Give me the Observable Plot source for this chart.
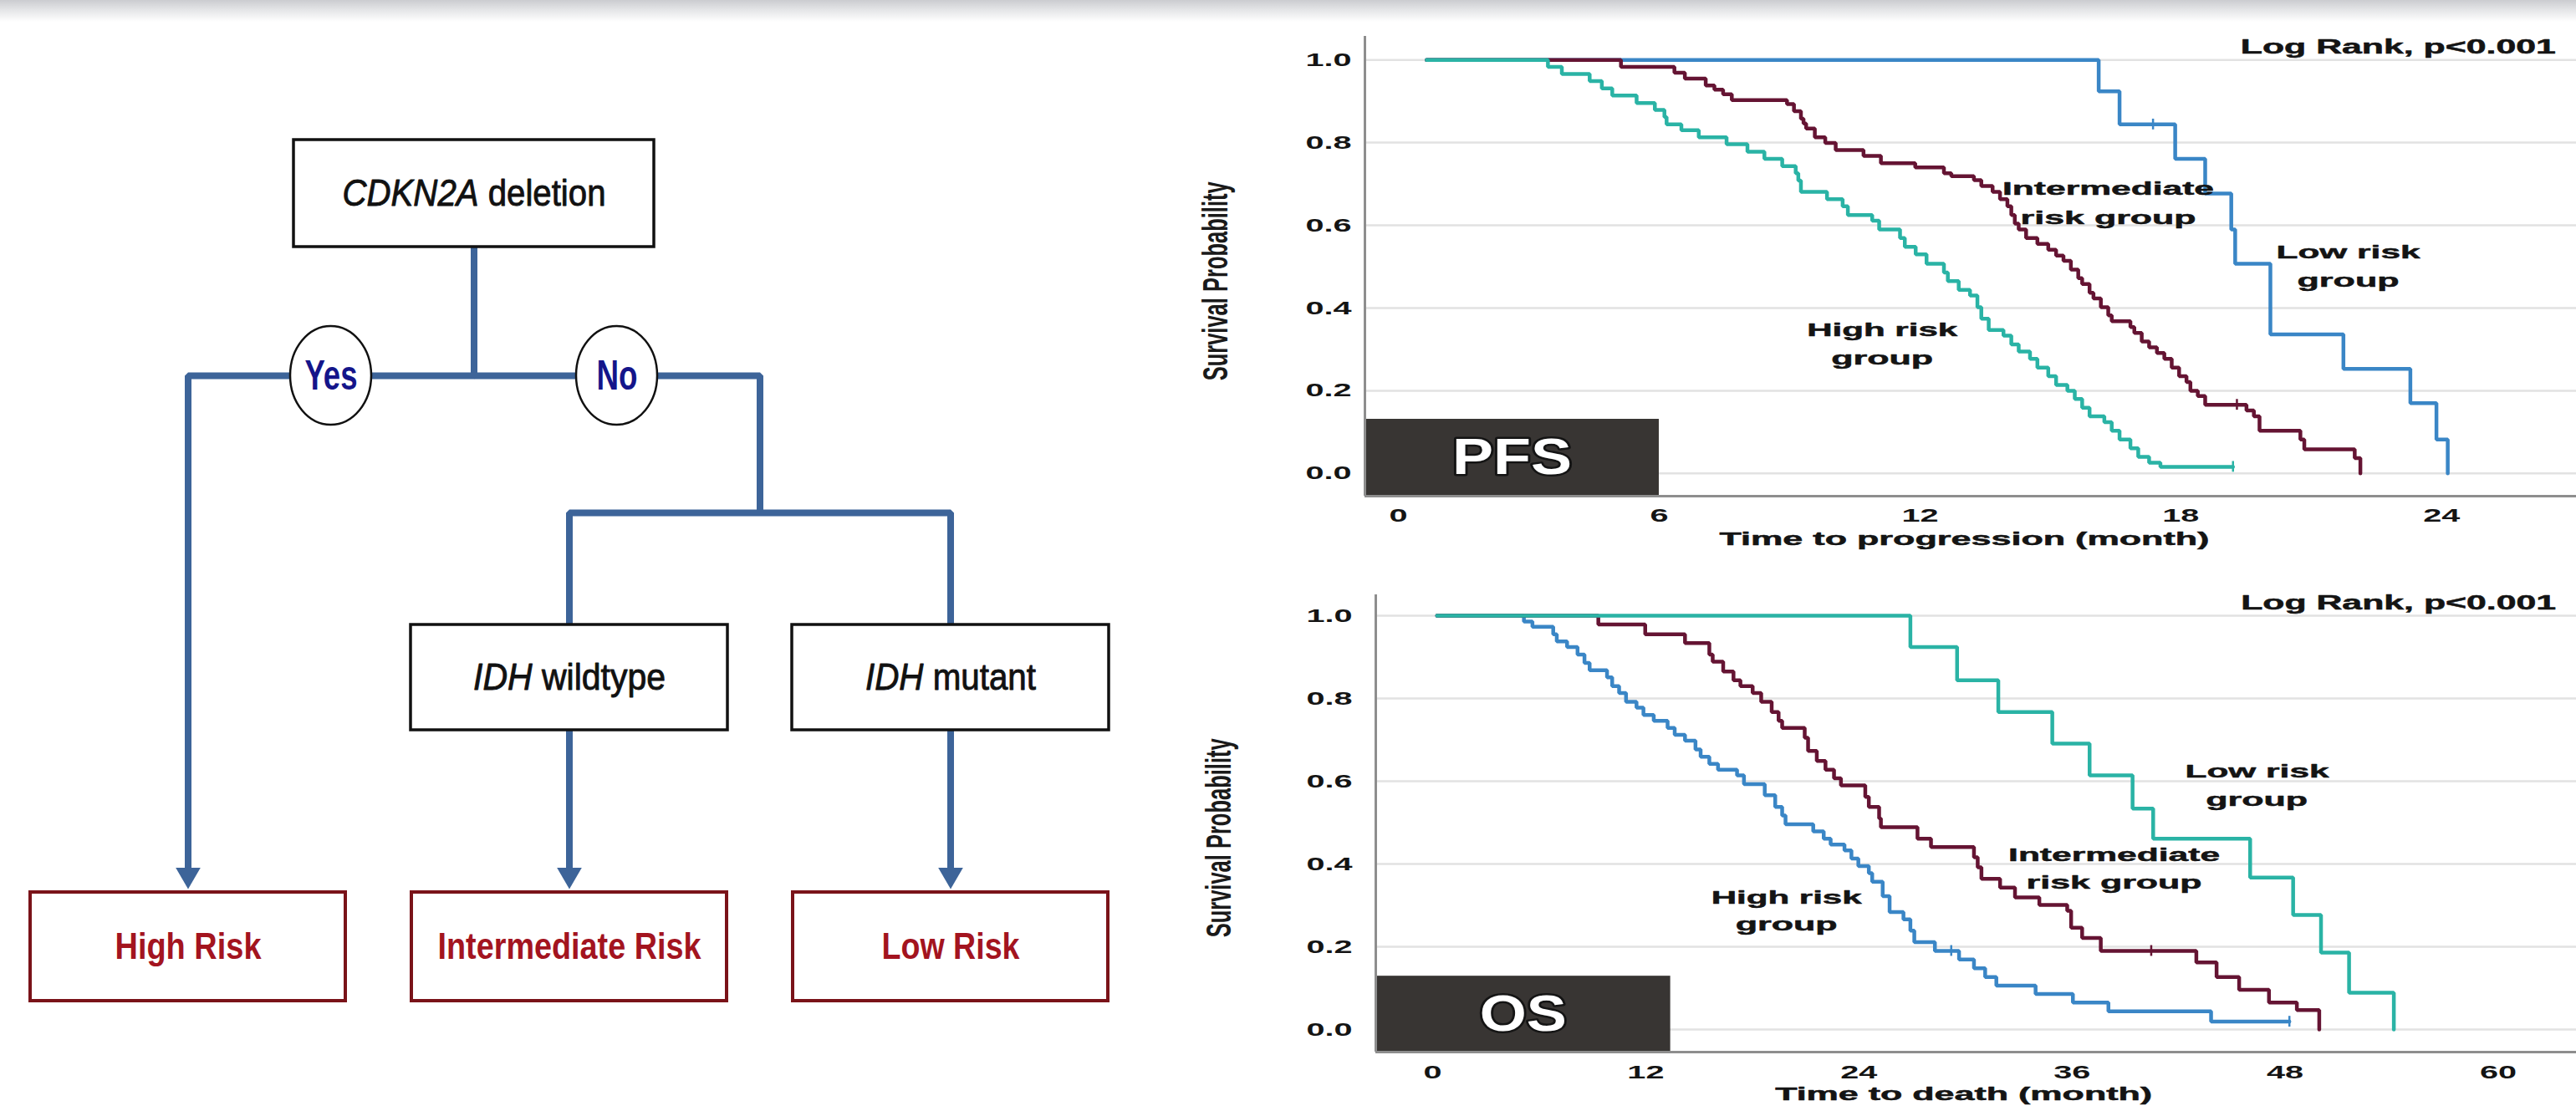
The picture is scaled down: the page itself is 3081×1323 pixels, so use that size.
<!DOCTYPE html>
<html>
<head>
<meta charset="utf-8">
<script src="https://cdn.jsdelivr.net/npm/d3@7"></script>
<script src="https://cdn.jsdelivr.net/npm/@observablehq/plot@0.6"></script>
<style>
html,body{margin:0;padding:0;background:#fff;}
#page{position:relative;width:3081px;height:1323px;overflow:hidden;background:#fff;font-family:"Liberation Sans",Arial,sans-serif;}
.panel{position:absolute;}
#topband{position:absolute;left:0;top:0;width:3081px;height:26px;background:linear-gradient(to bottom,#cbccd0 0%,#e4e5e7 45%,rgba(255,255,255,0) 100%);z-index:5;}
</style>
</head>
<body>
<div id="page">
  <div id="flow" class="panel" style="left:0;top:0;width:1400px;height:1323px"></div>
  <div id="pfs" class="panel" style="left:1400px;top:30px;width:1681px;height:650px"></div>
  <div id="os" class="panel" style="left:1400px;top:690px;width:1681px;height:633px"></div>
  <div id="topband"></div>
</div>
<script>
// ================= DATA =================
const riskGroups = ["Low risk group", "Intermediate risk group", "High risk group"];

// Kaplan–Meier steps: [time (months), survival probability]
const pfsLow = [[0.65,1],[16.11,0.924],[16.59,0.844],[17.87,0.761],[18.56,0.677],[19.16,0.590],[19.25,0.507],[20.06,0.336],[21.74,0.253],[23.28,0.170],[23.88,0.082],[24.14,0.0]];
const pfsInt = [[0.65,1],[5.12,0.983],[6.35,0.969],[6.59,0.955],[7.07,0.938],[7.27,0.928],[7.47,0.917],[7.67,0.903],[8.94,0.893],[9.10,0.876],[9.26,0.858],[9.32,0.846],[9.38,0.834],[9.58,0.813],[9.82,0.799],[10.06,0.782],[10.70,0.768],[11.10,0.750],[11.89,0.740],[12.55,0.726],[12.72,0.719],[13.24,0.709],[13.41,0.695],[13.67,0.681],[13.84,0.663],[14.01,0.646],[14.10,0.625],[14.18,0.604],[14.27,0.590],[14.44,0.569],[14.70,0.555],[14.95,0.541],[15.13,0.527],[15.30,0.514],[15.47,0.493],[15.64,0.472],[15.73,0.458],[15.90,0.437],[15.99,0.423],[16.16,0.402],[16.33,0.382],[16.41,0.368],[16.84,0.354],[16.93,0.340],[17.10,0.319],[17.27,0.305],[17.45,0.291],[17.62,0.277],[17.79,0.256],[17.96,0.235],[18.13,0.221],[18.22,0.200],[18.39,0.187],[18.56,0.166],[19.51,0.152],[19.68,0.138],[19.81,0.103],[20.75,0.082],[20.84,0.058],[22.0,0.037],[22.13,0.0]];
const pfsHigh = [[0.65,1],[3.44,0.983],[3.76,0.966],[4.40,0.949],[4.68,0.931],[4.92,0.914],[5.48,0.896],[5.90,0.879],[6.12,0.862],[6.17,0.844],[6.51,0.830],[6.91,0.813],[7.55,0.796],[8.03,0.778],[8.42,0.761],[8.83,0.743],[9.14,0.726],[9.20,0.708],[9.26,0.681],[9.86,0.663],[10.22,0.646],[10.34,0.625],[10.90,0.611],[11.06,0.590],[11.54,0.569],[11.65,0.548],[11.90,0.530],[12.15,0.507],[12.55,0.486],[12.64,0.465],[12.89,0.444],[13.15,0.430],[13.32,0.402],[13.41,0.374],[13.58,0.347],[13.92,0.333],[14.10,0.312],[14.27,0.295],[14.53,0.277],[14.70,0.256],[14.95,0.235],[15.13,0.214],[15.39,0.200],[15.56,0.180],[15.73,0.159],[15.90,0.138],[16.24,0.124],[16.41,0.103],[16.59,0.082],[16.84,0.061],[17.02,0.040],[17.27,0.026],[17.53,0.016],[19.2,0.016]];
const pfsLowCensor = [[17.36,0.844]];
const pfsIntCensor = [[19.29,0.166]];
const pfsHighCensor = [[19.2,0.016]];

const osLow = [[0.25,1],[26.90,0.924],[29.53,0.844],[31.85,0.767],[34.89,0.691],[36.99,0.614],[39.41,0.534],[40.57,0.461],[46.03,0.367],[48.45,0.277],[50.02,0.186],[51.6,0.089],[54.12,0.0]];
const osInt = [[0.25,1],[9.33,0.979],[11.97,0.955],[14.21,0.934],[15.58,0.906],[15.77,0.889],[16.36,0.865],[16.94,0.844],[17.33,0.830],[18.02,0.813],[18.50,0.792],[19.09,0.767],[19.48,0.746],[19.68,0.729],[20.95,0.705],[21.14,0.673],[21.63,0.649],[22.12,0.628],[22.60,0.607],[22.99,0.590],[24.36,0.562],[24.56,0.538],[25.14,0.510],[25.24,0.489],[27.3,0.461],[28.06,0.441],[30.48,0.416],[30.69,0.392],[30.90,0.364],[31.95,0.343],[32.79,0.319],[34.16,0.301],[35.73,0.287],[35.95,0.246],[36.57,0.221],[37.62,0.190],[43.0,0.162],[44.14,0.127],[45.41,0.096],[47.09,0.065],[48.66,0.047],[49.92,0.0]];
const osHigh = [[0.25,1],[5.14,0.986],[5.62,0.973],[6.79,0.955],[6.99,0.938],[7.57,0.924],[8.16,0.906],[8.55,0.886],[8.84,0.868],[9.82,0.851],[10.11,0.830],[10.50,0.813],[10.89,0.792],[11.48,0.778],[11.87,0.760],[12.45,0.746],[13.23,0.729],[13.63,0.712],[14.21,0.698],[14.80,0.677],[15.09,0.659],[15.58,0.642],[16.07,0.628],[17.14,0.614],[17.53,0.593],[18.70,0.566],[19.29,0.538],[19.68,0.517],[19.87,0.496],[21.43,0.479],[22.02,0.461],[22.41,0.447],[23.19,0.433],[23.58,0.413],[23.97,0.395],[24.56,0.378],[24.75,0.357],[25.34,0.322],[25.73,0.284],[26.51,0.266],[26.90,0.239],[27.12,0.211],[28.28,0.190],[29.64,0.169],[30.48,0.148],[31.11,0.127],[31.74,0.106],[33.95,0.086],[36.05,0.065],[38.05,0.044],[43.83,0.019],[48.24,0.019]];
const osLowCensor = [];
const osIntCensor = [[40.46,0.190]];
const osHighCensor = [[29.2,0.190],[48.24,0.019]];

const survTicks = [0, 0.2, 0.4, 0.6, 0.8, 1.0];
const pfsTimeTicks = [0, 6, 12, 18, 24];
const osTimeTicks = [0, 12, 24, 36, 48, 60];

// curve annotations: [text, time, survival]
const pfsLabels = [["Intermediate",16.33,0.688],["risk group",16.33,0.618],["Low risk",21.85,0.535],["group",21.85,0.465],["High risk",11.13,0.346],["group",11.13,0.277]];
const osLabels = [["Low risk",46.42,0.624],["group",46.40,0.554],["Intermediate",38.37,0.422],["risk group",38.37,0.354],["High risk",19.92,0.319],["group",19.92,0.253]];
const logRankText = "Log Rank, p<0.001";

// decision tree
const flowDecision = "CDKN2A deletion";
const flowAnswers = ["Yes", "No"];
const flowMarkers = ["IDH wildtype", "IDH mutant"];
const flowOutcomes = ["High Risk", "Intermediate Risk", "Low Risk"];

// ================= STYLE =================
const FONT = '"Liberation Sans", Arial, Helvetica, sans-serif';
const BLUE = "#3a86c6", TEAL = "#2ab3a5", MAROON = "#651433";
const FLOWBLUE = "#3d6499";

const textWidths = {
  "Log Rank, p<0.001": 377, "Intermediate": 253, "risk group": 210, "Low risk": 172,
  "group": 122, "High risk": 180, "Time to progression (month)": 586, "Time to death (month)": 451,
  "Survival Probability": 238, "PFS": 143, "OS": 104,
  "CDKN2A deletion": 315, "IDH wildtype": 230, "IDH mutant": 204,
  "High Risk": 175, "Intermediate Risk": 315, "Low Risk": 165, "Yes": 63, "No": 49
};

function stretch(svg, factor) {
  svg.querySelectorAll("text").forEach(t => {
    const s = t.textContent.trim();
    let w = textWidths[s];
    if (w == null) { if (!factor) return; w = t.getComputedTextLength() * factor; }
    t.setAttribute("textLength", w);
    t.setAttribute("lengthAdjust", "spacingAndGlyphs");
  });
}

// ================= KM CHART =================
function kmChart(cfg) {
  const marks = [Plot.ruleY(survTicks, {stroke: "#e2e2e2", strokeWidth: 2.5})];
  cfg.curves.forEach(c => {
    marks.push(Plot.line(c.data, {x: d => d[0], y: d => d[1], curve: "step-after", stroke: c.color, strokeWidth: 4.5, strokeLinejoin: "miter"}));
    if (c.censor.length) marks.push(Plot.link(c.censor, {x1: d => d[0], x2: d => d[0], y1: d => d[1] - 0.012, y2: d => d[1] + 0.014, stroke: c.color, strokeWidth: 2.5}));
  });
  const box = cfg.box;
  const txt = {fontWeight: "bold", fill: "#141414", stroke: "#141414", strokeWidth: 0.5};
  marks.push(
    Plot.rect([box], {x1: "x1", x2: "x2", y1: "y1", y2: "y2", fill: "#383533"}),
    Plot.text([box], {x: d => (d.x1 + d.x2) / 2, y: d => (d.y1 + d.y2) / 2, text: "label", fill: "#fff", stroke: "#141414", strokeWidth: 5, fontSize: 62, fontWeight: "bold", ariaLabel: "boxlabel"}),
    Plot.ruleX([cfg.xDomain[0]], {stroke: "#8e8e8e", strokeWidth: 3}),
    Plot.ruleY([cfg.yDomain[0]], {stroke: "#8e8e8e", strokeWidth: 3}),
    Plot.axisY(survTicks, {tickSize: 0, tickPadding: cfg.yTickPad, tickFormat: d3.format(".1f"), fontSize: 22, label: null, ...txt}),
    Plot.axisX(cfg.xTicks, {tickSize: 0, tickPadding: cfg.xTickPad, fontSize: 22, label: null, ...txt}),
    Plot.text(cfg.labels, {x: d => d[1], y: d => d[2], text: d => d[0], fontSize: 22, ...txt}),
    Plot.text([logRankText], {x: cfg.logRankX, y: 1.03, text: d => d, fontSize: 23, ...txt}),
    Plot.text([cfg.xTitle], {x: cfg.xTitleX, frameAnchor: "bottom", lineAnchor: "middle", textAnchor: "middle", dy: cfg.xTitleDy, text: d => d, fontSize: 22, ...txt}),
    Plot.text(["Survival Probability"], {y: cfg.yTitleY, frameAnchor: "left", textAnchor: "middle", lineAnchor: "middle", dx: cfg.yTitleDx, rotate: -90, text: d => d, fontSize: 42, fontWeight: "bold", fill: "#1a1a1a"})
  );
  return Plot.plot({
    width: cfg.width, height: cfg.height,
    marginLeft: cfg.margin[3], marginRight: cfg.margin[1], marginTop: cfg.margin[0], marginBottom: cfg.margin[2],
    x: {domain: cfg.xDomain, label: null},
    y: {domain: cfg.yDomain, label: null},
    style: {fontFamily: FONT, background: "transparent", overflow: "visible", maxWidth: "none"},
    marks
  });
}

const pfsSvg = kmChart({
  width: 1681, height: 650, margin: [13, 0, 87, 232],
  xDomain: [-0.77, 27.1], yDomain: [-0.055, 1.057],
  xTicks: pfsTimeTicks, yTickPad: 16, xTickPad: 15,
  curves: [
    {data: pfsLow, censor: pfsLowCensor, color: BLUE},
    {data: pfsInt, censor: pfsIntCensor, color: MAROON},
    {data: pfsHigh, censor: pfsHighCensor, color: TEAL}
  ],
  box: {x1: -0.77, x2: 6.0, y1: -0.055, y2: 0.131, label: "PFS"},
  labels: pfsLabels, logRankX: 23.0,
  xTitle: "Time to progression (month)", xTitleX: 13.02, xTitleDy: 51,
  yTitleY: 0.465, yTitleDx: -178
});

const osSvg = kmChart({
  width: 1681, height: 633, margin: [21, 0, 65, 245],
  xDomain: [-3.2, 64.4], yDomain: [-0.0545, 1.0505],
  xTicks: osTimeTicks, yTickPad: 28, xTickPad: 16,
  curves: [
    {data: osHigh, censor: osHighCensor, color: BLUE},
    {data: osInt, censor: osIntCensor, color: MAROON},
    {data: osLow, censor: osLowCensor, color: TEAL}
  ],
  box: {x1: -3.2, x2: 13.4, y1: -0.0545, y2: 0.129, label: "OS"},
  labels: osLabels, logRankX: 54.38,
  xTitle: "Time to death (month)", xTitleX: 29.9, xTitleDy: 50,
  yTitleY: 0.463, yTitleDx: -187
});

document.getElementById("pfs").append(pfsSvg);
document.getElementById("os").append(osSvg);

// ================= FLOWCHART =================
function flowChart() {
  // tree layout: leaves on integer columns, parents centred over children
  const outCols = flowOutcomes.map((_, i) => i);
  const markerCols = [outCols[1], outCols[2]];
  const noJoin = d3.mean(markerCols);
  const rootCol = (outCols[0] + noJoin) / 2;
  const answerCols = [(rootCol + outCols[0]) / 2, (rootCol + noJoin) / 2];
  // layout in pixels
  const colPx = 456, col0 = 224.5, W = 1400, H = 1323;
  const L = {rootY: 231, rootW: 431, rootH: 128, split1: 449, split2: 613, geneY: 810, geneW: 379, geneH: 126,
             riskY: 1132, riskW: 377, riskH: 130, ansRx: 48.5, ansRy: 59, arrowC: 1046};
  const hw = px => px / colPx;

  const qBoxes = [{c: rootCol, y: L.rootY, w: L.rootW, h: L.rootH, label: flowDecision}]
    .concat(flowMarkers.map((m, i) => ({c: markerCols[i], y: L.geneY, w: L.geneW, h: L.geneH, label: m})));
  const rBoxes = flowOutcomes.map((o, i) => ({c: outCols[i], y: L.riskY, w: L.riskW, h: L.riskH, label: o}));
  const answers = flowAnswers.map((a, i) => ({c: answerCols[i], y: L.split1, label: a}));

  const rootBottom = L.rootY + L.rootH / 2, geneTop = L.geneY - L.geneH / 2, geneBottom = L.geneY + L.geneH / 2;
  const edges = [
    [[rootCol, rootBottom], [rootCol, L.split1], [outCols[0], L.split1], [outCols[0], L.arrowC]],
    [[rootCol, L.split1], [noJoin, L.split1], [noJoin, L.split2]],
    [[noJoin, L.split2], [markerCols[0], L.split2], [markerCols[0], geneTop]],
    [[noJoin, L.split2], [markerCols[1], L.split2], [markerCols[1], geneTop]],
    [[markerCols[0], geneBottom], [markerCols[0], L.arrowC]],
    [[markerCols[1], geneBottom], [markerCols[1], L.arrowC]]
  ].flatMap((pts, k) => pts.map(p => ({k, c: p[0], y: p[1]})));
  const arrows = outCols.map(c => ({c, y: L.arrowC}));

  return Plot.plot({
    width: W, height: H, margin: 0,
    x: {domain: [(0 - col0) / colPx, (W - col0) / colPx], range: [0, W], axis: null},
    y: {domain: [0, H], range: [0, H], axis: null},
    style: {fontFamily: FONT, background: "transparent", overflow: "visible", maxWidth: "none"},
    marks: [
      Plot.line(edges, {x: "c", y: "y", z: "k", stroke: FLOWBLUE, strokeWidth: 8, strokeLinejoin: "miter", strokeLinecap: "butt"}),
      Plot.dot(arrows, {x: "c", y: "y", symbol: "triangle", r: 11, rotate: 180, fill: FLOWBLUE, stroke: "none"}),
      Plot.rect(qBoxes, {x1: d => d.c - hw(d.w / 2), x2: d => d.c + hw(d.w / 2), y1: d => d.y - d.h / 2, y2: d => d.y + d.h / 2, fill: "#fff", stroke: "#111", strokeWidth: 3.5}),
      Plot.rect(rBoxes, {x1: d => d.c - hw(d.w / 2), x2: d => d.c + hw(d.w / 2), y1: d => d.y - d.h / 2, y2: d => d.y + d.h / 2, fill: "#fff", stroke: "#7a1319", strokeWidth: 4}),
      Plot.rect(answers, {x1: d => d.c - hw(L.ansRx), x2: d => d.c + hw(L.ansRx), y1: d => d.y - L.ansRy, y2: d => d.y + L.ansRy, rx: L.ansRx, ry: L.ansRy, fill: "#fff", stroke: "#111", strokeWidth: 2.5}),
      Plot.text(qBoxes, {x: "c", y: "y", text: "label", fontSize: 44, fill: "#111", stroke: "#111", strokeWidth: 0.9}),
      Plot.text(rBoxes, {x: "c", y: "y", text: "label", fontSize: 45, fontWeight: "bold", fill: "#a3141f"}),
      Plot.text(answers, {x: "c", y: "y", text: "label", fontSize: 50, fontWeight: "bold", fill: "#14158a"})
    ]
  });
}

const flowSvg = flowChart();
document.getElementById("flow").append(flowSvg);

// italic gene names
const NS = "http://www.w3.org/2000/svg";
flowSvg.querySelectorAll("text").forEach(t => {
  const s = t.textContent;
  if (s.startsWith("CDKN2A ") || s.startsWith("IDH ")) {
    const i = s.indexOf(" ");
    t.textContent = "";
    const a = document.createElementNS(NS, "tspan");
    a.setAttribute("font-style", "italic");
    a.textContent = s.slice(0, i);
    const b = document.createElementNS(NS, "tspan");
    b.textContent = s.slice(i);
    t.append(a, b);
  }
});

// outlined box labels
[pfsSvg, osSvg].forEach(svg => {
  svg.querySelectorAll('g[aria-label="boxlabel"] text').forEach(t => t.setAttribute("paint-order", "stroke"));
});

stretch(pfsSvg, 1.8);
stretch(osSvg, 1.8);
stretch(flowSvg, null);
</script>
</body>
</html>
